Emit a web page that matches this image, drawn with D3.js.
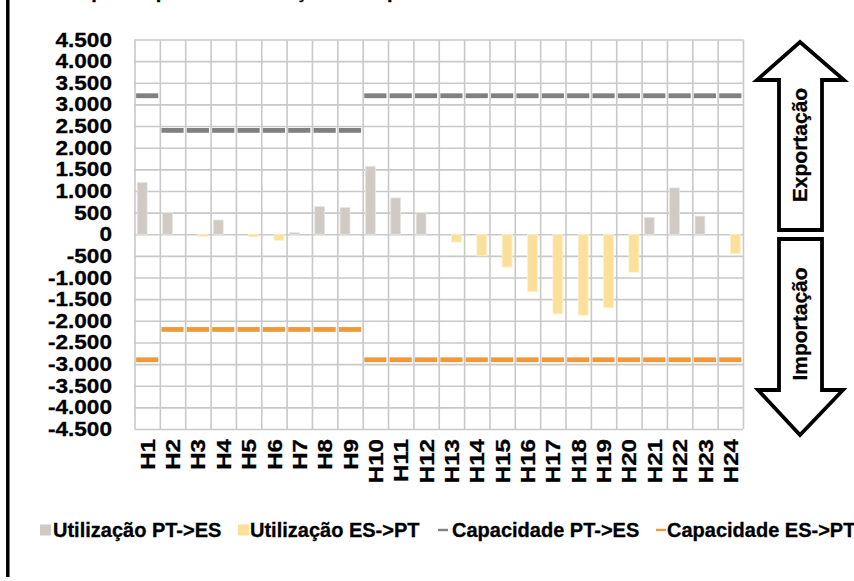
<!DOCTYPE html>
<html>
<head>
<meta charset="utf-8">
<script src="https://cdn.jsdelivr.net/npm/d3@7"></script>
<style>
  html, body { margin: 0; padding: 0; background: #fff; }
  svg { display: block; font-family: "Liberation Sans", Arial, sans-serif; font-weight: bold; }
  svg text { stroke: #000; stroke-width: 0.3px; }
</style>
</head>
<body>
<svg id="chart" width="854" height="581"></svg>
<script>
// ---- data ----
const hours = ["H1","H2","H3","H4","H5","H6","H7","H8","H9","H10","H11","H12","H13","H14","H15","H16","H17","H18","H19","H20","H21","H22","H23","H24"];
const usePTES = [1200,500,0,330,0,0,40,640,620,1570,840,500,0,0,0,0,0,0,0,0,390,1070,420,0];
const useESPT = [0,0,-50,0,-60,-140,0,0,0,0,0,0,-180,-500,-760,-1330,-1840,-1870,-1700,-880,0,0,0,-450];
const capPTES = [3200,2400,2400,2400,2400,2400,2400,2400,2400,3200,3200,3200,3200,3200,3200,3200,3200,3200,3200,3200,3200,3200,3200,3200];
const capESPT = [-2900,-2200,-2200,-2200,-2200,-2200,-2200,-2200,-2200,-2900,-2900,-2900,-2900,-2900,-2900,-2900,-2900,-2900,-2900,-2900,-2900,-2900,-2900,-2900];
const yTicks = [-4500,-4000,-3500,-3000,-2500,-2000,-1500,-1000,-500,0,500,1000,1500,2000,2500,3000,3500,4000,4500];
const seriesNames = ["Utilização PT->ES","Utilização ES->PT","Capacidade PT->ES","Capacidade ES->PT"];
const titleText = "Exemplo de perfil de utilização da capacidade";
const arrowLabels = ["Exportação","Importação"];

// ---- styles ----
const C = { ptes: "#cfcac3", espt: "#fbe09b", capPT: "#808080", capES: "#f0993b", grid: "#c9c9c9" };
const plot = { left: 134.5, right: 743, top: 39.5, bottom: 429 };

const svg = d3.select("#chart");
const loc = d3.formatLocale({decimal: ",", thousands: ".", grouping: [3], currency: ["", ""], minus: "-"});
const fmt = loc.format(",");

// frame line at left
svg.append("line").attr("x1", 7.8).attr("x2", 7.8).attr("y1", 0).attr("y2", 577)
  .attr("stroke", "#000").attr("stroke-width", 3.5);

// title (cut off at top)
svg.append("text").attr("x", 38).attr("y", -2).attr("font-size", 20).attr("fill", "#000").text(titleText);

const x = d3.scaleBand().domain(hours).range([plot.left, plot.right]).padding(0);
const xs = d3.scaleBand().domain(["pt","es"]).range([0, x.bandwidth()]).paddingInner(0).paddingOuter(0.27);
const y = d3.scaleLinear().domain([-4500, 4500]).range([plot.bottom, plot.top]);

// horizontal grid via axis
const gy = svg.append("g").attr("transform", `translate(${plot.left},0)`)
  .call(d3.axisLeft(y).tickValues(yTicks).tickSize(-(plot.right - plot.left)).tickFormat(""));
gy.select(".domain").remove();
gy.selectAll(".tick line").attr("stroke", C.grid).attr("stroke-width", 1.6);

// vertical grid via axis on band boundaries
const xb = d3.scaleLinear().domain([0, hours.length]).range([plot.left, plot.right]);
const gx = svg.append("g").attr("transform", `translate(0,${plot.bottom})`)
  .call(d3.axisBottom(xb).tickValues(d3.range(0, hours.length + 1)).tickSize(-(plot.bottom - plot.top)).tickFormat(""));
gx.select(".domain").remove();
gx.selectAll(".tick line").attr("stroke", C.grid).attr("stroke-width", 1.6);

// y labels
svg.append("g").selectAll("text").data(yTicks).join("text")
  .attr("transform", d => `translate(112,${y(d)}) scale(1.13,1)`)
  .attr("text-anchor", "end").attr("dy", "0.35em").attr("font-size", 20).attr("fill", "#000")
  .text(d => fmt(d));

// x labels
svg.append("g").selectAll("text").data(hours).join("text")
  .attr("transform", d => `translate(${x(d) + x.bandwidth() / 2},439) rotate(-90) scale(1.15,1)`)
  .attr("text-anchor", "end").attr("dy", "0.36em").attr("font-size", 21).attr("fill", "#000")
  .text(d => d);

// bars
const bars = svg.append("g");
bars.selectAll("rect.pt").data(hours.map((h, i) => ({h, v: usePTES[i]})).filter(d => d.v !== 0)).join("rect")
  .attr("class", "pt")
  .attr("x", d => x(d.h) + xs("pt")).attr("width", xs.bandwidth())
  .attr("y", d => y(Math.max(0, d.v))).attr("height", d => Math.abs(y(d.v) - y(0)))
  .attr("fill", C.ptes).attr("stroke", "#ebe8e4").attr("stroke-width", 0.8);
bars.selectAll("rect.es").data(hours.map((h, i) => ({h, v: useESPT[i]})).filter(d => d.v !== 0)).join("rect")
  .attr("class", "es")
  .attr("x", d => x(d.h) + xs("es")).attr("width", xs.bandwidth())
  .attr("y", d => y(Math.max(0, d.v))).attr("height", d => Math.abs(y(d.v) - y(0)))
  .attr("fill", C.espt).attr("stroke", "#fdf1d2").attr("stroke-width", 0.8);

// capacity dashes
function dashes(vals, color) {
  svg.append("g").selectAll("rect").data(hours.map((h, i) => ({h, v: vals[i]}))).join("rect")
    .attr("x", d => x(d.h) + 1.6).attr("width", x.bandwidth() - 3.2)
    .attr("y", d => y(d.v) - 2.4).attr("height", 4.8)
    .attr("fill", color);
}
dashes(capPTES, C.capPT);
dashes(capESPT, C.capES);

// arrows
const arrowG = svg.append("g").attr("fill", "#fff").attr("stroke", "#000").attr("stroke-width", 3.8).attr("stroke-linejoin", "miter");
arrowG.append("path").attr("d", "M800,42 L844,80 L822,80 L822,230 L779,230 L779,80 L757,80 Z");
arrowG.append("path").attr("d", "M779,239 L822,239 L822,390 L843,390 L800,435 L758,390 L779,390 Z");
svg.append("text").attr("transform", "translate(800,145) rotate(-90)").attr("text-anchor", "middle")
  .attr("dy", "0.35em").attr("font-size", 21).attr("fill", "#000").text(arrowLabels[0]);
svg.append("text").attr("transform", "translate(800,324) rotate(-90)").attr("text-anchor", "middle")
  .attr("dy", "0.35em").attr("font-size", 21).attr("fill", "#000").text(arrowLabels[1]);

// legend
const lg = svg.append("g");
const ly = 530;
lg.append("rect").attr("x", 40).attr("y", ly - 5.5).attr("width", 11).attr("height", 11).attr("fill", C.ptes);
lg.append("text").attr("x", 53).attr("y", ly).attr("dy", "0.35em").attr("font-size", 20).text(seriesNames[0]);
lg.append("rect").attr("x", 238).attr("y", ly - 5.5).attr("width", 11).attr("height", 11).attr("fill", C.espt);
lg.append("text").attr("x", 250).attr("y", ly).attr("dy", "0.35em").attr("font-size", 20).text(seriesNames[1]);
lg.append("rect").attr("x", 438).attr("y", ly - 1.2).attr("width", 10).attr("height", 2.4).attr("fill", C.capPT);
lg.append("text").attr("x", 452).attr("y", ly).attr("dy", "0.35em").attr("font-size", 20).text(seriesNames[2]);
lg.append("rect").attr("x", 656).attr("y", ly - 1.2).attr("width", 10).attr("height", 2.4).attr("fill", C.capES);
lg.append("text").attr("x", 667).attr("y", ly).attr("dy", "0.35em").attr("font-size", 20).text(seriesNames[3]);
</script>
</body>
</html>
